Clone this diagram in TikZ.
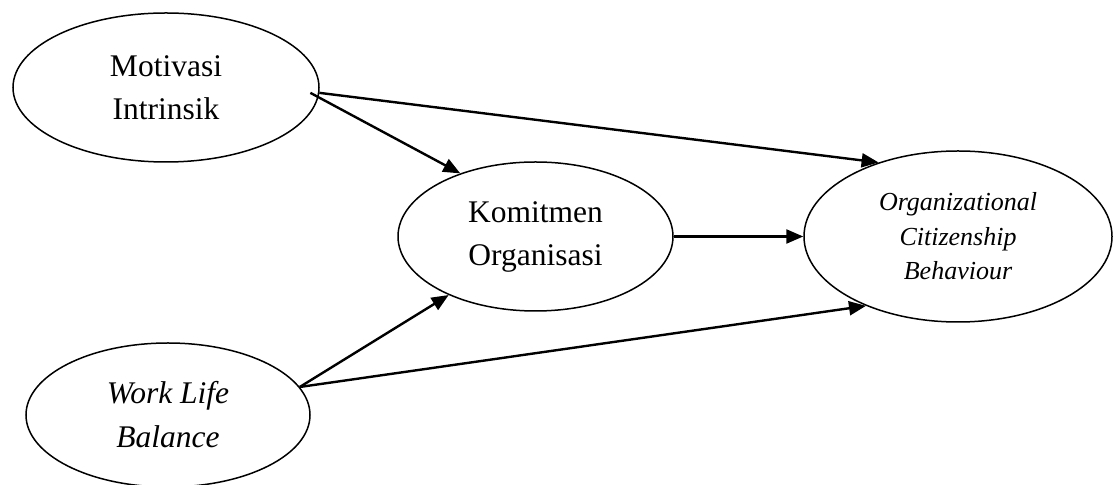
\documentclass[tikz,border=0pt]{standalone}
\usepackage{fontspec}
\setmainfont{Liberation Serif}
\usetikzlibrary{shapes.geometric,arrows.meta}
\tikzset{
  var/.style={draw, ellipse, line width=0.75pt, inner sep=0pt, align=center,
    font=\fontsize{15.75pt}{21.5pt}\selectfont},
  ocbvar/.style={var, font=\fontsize{13pt}{17.25pt}\selectfont\itshape},
  path/.style={line width=1.2pt, -{Triangle[length=8.5pt,width=7pt]}}
}
\begin{document}
\begin{tikzpicture}[x=0.5pt,y=-0.5pt]
\useasboundingbox (0,0) rectangle (1119,485);
\node[var, minimum width=153pt, minimum height=74.5pt] (mot) at (166,87.5) {Motivasi\\Intrinsik};
\node[var, minimum width=142pt, minimum height=72pt, font=\fontsize{15.75pt}{22pt}\selectfont\itshape] (wlb) at (168,415) {Work Life\\Balance};
\node[var, minimum width=137.5pt, minimum height=74.5pt] (kom) at (535.5,236.5) {Komitmen\\Organisasi};
\node[ocbvar, minimum width=154pt, minimum height=85.5pt] (ocb) at (958,236.5) {Organizational\\Citizenship\\Behaviour};
\draw[path] (mot.-2) -- (ocb.137);
\draw[path] ([xshift=-4.5pt]mot.-2) -- (kom.140);
\draw[path] (kom.east) -- (ocb.west);
\draw[path] (wlb.12.5) -- (kom.214);
\draw[path] (wlb.12.5) -- (ocb.217);
\end{tikzpicture}
\end{document}
